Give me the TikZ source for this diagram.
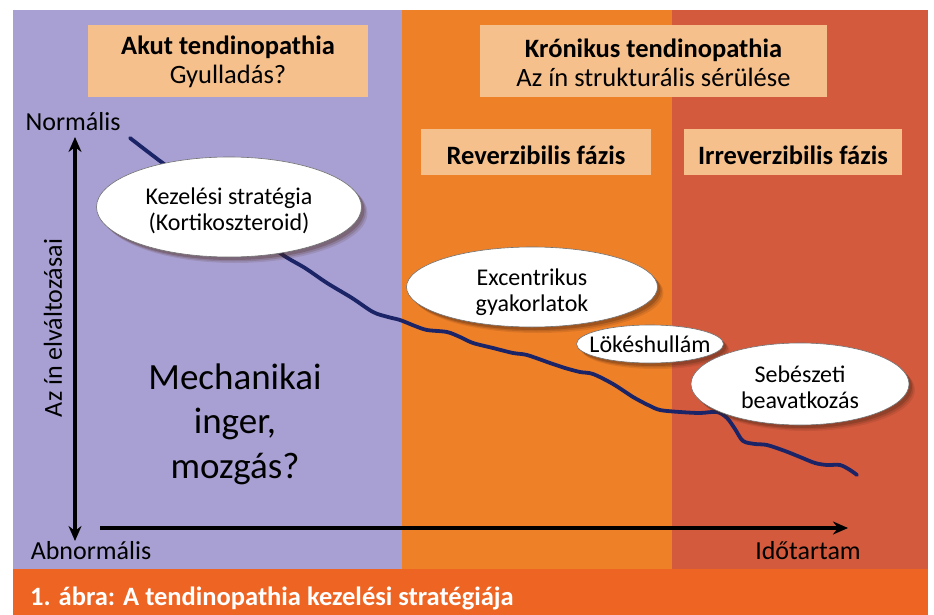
\documentclass[tikz,border=0pt]{standalone}
\usepackage{fontspec}
\setmainfont{Carlito}
\usetikzlibrary{shapes.geometric,shadows,arrows.meta}
\definecolor{lav}{RGB}{168,160,210}
\definecolor{orng}{RGB}{238,128,40}
\definecolor{redd}{RGB}{212,90,62}
\definecolor{capbar}{RGB}{237,100,35}
\definecolor{peach}{RGB}{245,192,140}
\definecolor{navy}{RGB}{28,36,104}
\definecolor{shad}{RGB}{70,35,20}
\begin{document}
\begin{tikzpicture}[x=1pt,y=-1pt,
  titlebox/.style={fill=peach, inner sep=0pt},
  titletext/.style={align=center, inner sep=0pt, font=\fontsize{26.5}{28.5}\selectfont},
  bubble/.style={ellipse, fill=white, draw=black!55, line width=0.6pt, inner sep=0pt,
    drop shadow={shadow xshift=6pt, shadow yshift=-6pt, fill=shad, opacity=0.12},
    drop shadow={shadow xshift=4.5pt, shadow yshift=-4.5pt, fill=shad, opacity=0.18},
    drop shadow={shadow xshift=3pt, shadow yshift=-3pt, fill=shad, opacity=0.25}},
  bubbletext/.style={align=center, inner sep=0pt, font=\fontsize{24}{26}\selectfont},
  axisline/.style={line width=4pt, black},
  lbl/.style={font=\fontsize{26}{28}\selectfont, inner sep=0pt}]
\useasboundingbox (0,0) rectangle (934,615);
\fill[white] (0,0) rectangle (934,615);
% background panels
\fill[lav] (13,10) rectangle (402,569);
\fill[orng] (402,10) rectangle (672,569);
\fill[redd] (672,10) rectangle (928,569);
\fill[capbar] (13,569) rectangle (928,615);
% title boxes
\node[titlebox, minimum width=280pt, minimum height=72pt,
  label={[titletext, yshift=-1pt]center:{\textbf{Akut tendinopathia}\\Gyulladás?}}] (akut) at (228,61) {};
\node[titlebox, minimum width=347pt, minimum height=72pt,
  label={[titletext, yshift=-2pt]center:{\textbf{Krónikus tendinopathia}\\Az ín strukturális sérülése}}] (kron) at (653.5,61) {};
\node[titlebox, minimum width=230pt, minimum height=46pt,
  label={[titletext, yshift=-3pt]center:{\textbf{Reverzibilis fázis}}}] (rev) at (536,152) {};
\node[titlebox, minimum width=218pt, minimum height=46pt,
  label={[titletext, yshift=-3pt]center:{\textbf{Irreverzibilis fázis}}}] (irrev) at (793,152) {};
% axes
\node[lbl] (norm) at (73,122) {Normális};
\node[lbl] (abn) at (91,551) {Abnormális};
\node[lbl] (ido) at (808,551) {Időtartam};
\node[lbl, rotate=90] (ylab) at (53,328) {Az ín elváltozásai};
\coordinate (ytop) at (75,137);
\coordinate (ybot) at (75,541);
\coordinate (xl) at (100,528);
\coordinate (xr) at (848,528);
\draw[axisline, {Stealth[length=15pt,width=13pt]}-{Stealth[length=15pt,width=13pt]}] (ytop) -- (ybot);
\draw[axisline, -{Stealth[length=15pt,width=13pt]}] (xl) -- (xr);
% curve
\draw[navy, line width=3.8pt, line cap=round, line join=round] plot[smooth, tension=0.5] coordinates {
 (130,138) (160,161) (200,190) (240,221) (280,253) (305,268) (327,283) (352,298) (373,312)
 (388,317) (400,320) (415,326) (427,330) (447,332) (460,337) (473,343) (493,348) (513,353)
 (527,355) (550,363) (565,368) (580,372) (593,374) (613,384) (633,397) (648,405) (660,410)
 (680,412) (700,413) (717,412) (727,418) (735,429) (743,441) (755,444) (767,445) (785,451)
 (800,457) (815,463) (827,465) (840,465) (850,470) (857,475)};
% bubbles
\node[bubble, minimum width=265pt, minimum height=100pt,
  label={[bubbletext, yshift=-4pt]center:{Kezelési stratégia\\(Kortikoszteroid)}}] (kez) at (229,207) {};
\node[bubble, minimum width=251pt, minimum height=80pt,
  label={[bubbletext, yshift=-5pt]center:{Excentrikus\\gyakorlatok}}] (exc) at (532,287) {};
\node[bubble, minimum width=147pt, minimum height=38pt,
  label={[bubbletext, yshift=0pt]center:{Lökéshullám}}] (lok) at (650,344) {};
\node[bubble, minimum width=218pt, minimum height=82pt,
  label={[bubbletext, yshift=-3pt]center:{Sebészeti\\beavatkozás}}] (seb) at (800,384) {};
% big text
\node[align=center, inner sep=0pt, font=\fontsize{37}{44.5}\selectfont] (mech) at (235,424)
  {Mechanikai\\inger,\\mozgás?};
% caption
\node[anchor=west, inner sep=0pt, text=white, font=\fontsize{26.5}{28}\selectfont\bfseries] (cap) at (30,598)
  {1. ábra: A tendinopathia kezelési stratégiája};
\end{tikzpicture}
\end{document}
